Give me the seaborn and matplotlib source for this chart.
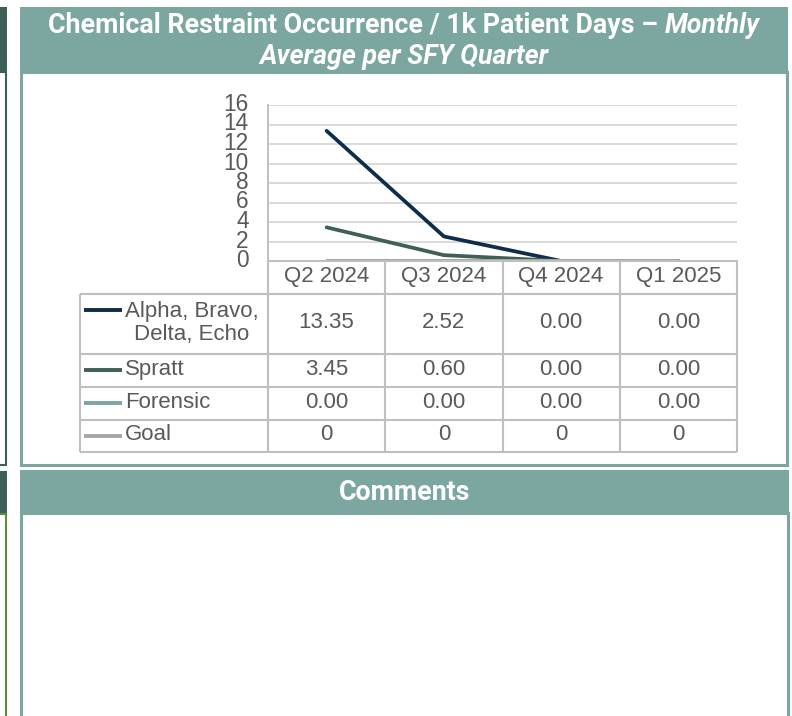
import matplotlib
matplotlib.use("Agg")
import matplotlib.pyplot as plt
from matplotlib.patches import Rectangle
from matplotlib.transforms import ScaledTranslation
import seaborn as sns
import pandas as pd

# ---------------- data ----------------
quarters = ["Q2 2024", "Q3 2024", "Q4 2024", "Q1 2025"]
series_names = ["Alpha, Bravo, Delta, Echo", "Spratt", "Forensic", "Goal"]
series_labels = ["Alpha, Bravo,\nDelta, Echo", "Spratt", "Forensic", "Goal"]
alpha_vals = [13.35, 2.52, 0.00, 0.00]
spratt_vals = [3.45, 0.60, 0.00, 0.00]
forensic_vals = [0.00, 0.00, 0.00, 0.00]
goal_vals = [0, 0, 0, 0]
y_ticks = [0, 2, 4, 6, 8, 10, 12, 14, 16]
title_main = "Chemical Restraint Occurrence / 1k Patient Days \u2013 "
title_ital1 = "Monthly"
title_ital2 = "Average per SFY Quarter"
comments_title = "Comments"

series_colors = ["#0E2D48", "#3F5F58", "#7BA7A0", "#A6A6A6"]
value_fmt = ["{:.2f}", "{:.2f}", "{:.2f}", "{:.0f}"]

all_vals = [alpha_vals, spratt_vals, forensic_vals, goal_vals]
rows = []
for name, vals in zip(series_names, all_vals):
    for i, (q, v) in enumerate(zip(quarters, vals)):
        rows.append({"series": name, "quarter": q, "pos": i, "value": v})
df = pd.DataFrame(rows)

# ---------------- style ----------------
sns.set_theme(style="white")
plt.rcParams["font.family"] = ["Liberation Sans", "DejaVu Sans"]

TEAL = "#7BA7A0"
DARK = "#3E5F58"
OLIVE = "#5B8C3A"
GRAY_TXT = "#595959"
BORDER = "#BFBFBF"
GRID = "#D9D9D9"

W, H = 792, 716
fig = plt.figure(figsize=(W / 100, H / 100), dpi=100)
fig.patch.set_facecolor("white")


def fx(x):
    return x / W


def fy(y):
    return 1 - y / H


def rect(x0, y0, x1, y1, **kw):
    fig.patches.append(Rectangle((fx(x0), fy(y1)), (x1 - x0) / W, (y1 - y0) / H,
                                 transform=fig.transFigure, figure=fig, zorder=-10, **kw))


def axes_px(x0, y0, x1, y1):
    return fig.add_axes([fx(x0), fy(y1), (x1 - x0) / W, (y1 - y0) / H])


# ---- neighbouring panel remnants (left edge) ----
rect(-5, 7, 7, 72, facecolor=DARK, edgecolor="none")
rect(-10, 72, 6, 465, facecolor="white", edgecolor=DARK, linewidth=1.5)
rect(-5, 471, 7, 513, facecolor=DARK, edgecolor="none")
rect(-10, 514, 6, 730, facecolor="white", edgecolor=OLIVE, linewidth=1.5)

# ---- main panel ----
rect(20, 7, 788, 72, facecolor=TEAL, edgecolor="none")
rect(21, 72, 787, 465, facecolor="white", edgecolor=TEAL, linewidth=2.2)
rect(20, 470, 789, 513, facecolor=TEAL, edgecolor="none")
rect(21, 513, 788, 730, facecolor="white", edgecolor=TEAL, linewidth=2.2)

# ---- title ----
tkw = dict(color="white", fontsize=19.3, fontweight="bold", family=["Roboto", "DejaVu Sans"],
           va="baseline", transform=fig.transFigure)
t1 = fig.text(0, fy(33), title_main, **tkw)
t2 = fig.text(0, fy(33), title_ital1, fontstyle="italic", **tkw)
r = fig.canvas.get_renderer()
w1 = t1.get_window_extent(r).width
w2 = t2.get_window_extent(r).width
start = 404 - (w1 + w2) / 2
t1.set_x(fx(start))
t2.set_x(fx(start + w1))
fig.text(fx(404), fy(64), title_ital2, fontstyle="italic", ha="center", **tkw)
fig.text(fx(405), fy(500), comments_title, ha="center", **tkw)

# ---- line chart ----
ax = axes_px(268, 105, 737, 261)
sns.lineplot(data=df, x="pos", y="value", hue="series", hue_order=series_names,
             palette=series_colors, linewidth=2.7, legend=False, ax=ax,
             estimator=None, sort=False)
ax.set_xlim(-0.5, 3.5)
ax.set_ylim(0, 16)
ax.set_yticks(y_ticks)
ax.set_yticklabels([str(t) for t in y_ticks])
ax.set_xticks([])
ax.set_xlabel("")
ax.set_ylabel("")
ax.grid(axis="y", color=GRID, linewidth=1.4)
ax.set_axisbelow(True)
for s in ["top", "right"]:
    ax.spines[s].set_visible(False)
for s in ["left", "bottom"]:
    ax.spines[s].set_color(BORDER)
    ax.spines[s].set_linewidth(1.4)
ax.tick_params(axis="y", length=0, pad=14, labelsize=16.3, labelcolor=GRAY_TXT)
off = ScaledTranslation(0, 3 / 100, fig.dpi_scale_trans)
for lab in ax.get_yticklabels():
    lab.set_transform(lab.get_transform() + off)
ax.set_facecolor("none")

# ---- data table ----
tx = axes_px(80, 261, 737, 452)
tx.set_xlim(0, 657)
tx.set_ylim(191, 0)
tx.axis("off")
col_edges = [0, 188, 305.25, 422.5, 539.75, 657]
row_edges = [0, 33, 93, 126, 159, 191]
lkw = dict(color=BORDER, linewidth=1.5, clip_on=False)
tx.hlines(row_edges[0], col_edges[1], col_edges[-1], **lkw)
for yv in row_edges[1:]:
    tx.hlines(yv, col_edges[0], col_edges[-1], **lkw)
tx.vlines(col_edges[0], row_edges[1], row_edges[-1], **lkw)
for xv in col_edges[1:]:
    tx.vlines(xv, row_edges[0], row_edges[-1], **lkw)

txt = dict(color=GRAY_TXT, fontsize=16, va="center")
for j, q in enumerate(quarters):
    xc = (col_edges[j + 1] + col_edges[j + 2]) / 2
    tx.text(xc, (row_edges[0] + row_edges[1]) / 2 - 1, q, ha="center", **txt)

swatch_y = [49, None, None, None]
for i, (lab, vals, col, fmt) in enumerate(zip(series_labels, all_vals, series_colors, value_fmt)):
    yc = (row_edges[i + 1] + row_edges[i + 2]) / 2
    sy = swatch_y[i] if swatch_y[i] is not None else yc
    tx.hlines(sy, 4, 42, color=col, linewidth=2.8, clip_on=False)
    tx.text(45, yc - 1, lab, ha="left", multialignment="center", linespacing=1.12, **txt)
    for j, v in enumerate(vals):
        xc = (col_edges[j + 1] + col_edges[j + 2]) / 2
        tx.text(xc, yc - 1, fmt.format(v), ha="center", **txt)

fig.savefig("out.png", dpi=100, facecolor="white")
